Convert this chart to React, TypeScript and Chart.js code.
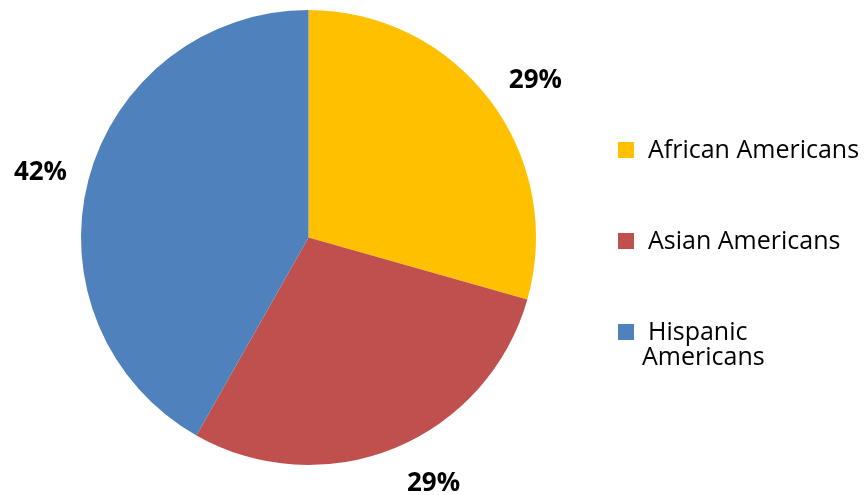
import React, { useEffect, useRef } from "react";
import { Chart, registerables } from "chart.js";

Chart.register(...registerables);

const categories = ["African Americans", "Asian Americans", "Hispanic Americans"];
const legendLines = [["African Americans"], ["Asian Americans"], ["Hispanic", "Americans"]];
const values = [29.4, 28.8, 41.8];
const percentLabels = ["29%", "29%", "42%"];
const colors = ["#FFC000", "#C0504D", "#4F81BD"];

const labelPlugin = {
  id: "pctLabels",
  afterDraw(chart: any) {
    const ctx = chart.ctx;
    const meta = chart.getDatasetMeta(0);
    ctx.save();
    ctx.font = "bold 26px 'Open Sans'";
    ctx.fillStyle = "#000";
    ctx.textAlign = "center";
    ctx.textBaseline = "alphabetic";
    meta.data.forEach((arc: any, i: number) => {
      const p = arc.getProps(["x", "y", "startAngle", "endAngle", "outerRadius"], true);
      const mid = (p.startAngle + p.endAngle) / 2;
      const c = Math.cos(mid);
      const s = Math.sin(mid);
      const r = p.outerRadius + 16;
      const half = ctx.measureText(percentLabels[i]).width / 2 + 6;
      const cx = p.x + c * r + Math.sign(c) * half;
      const cy = p.y + s * r + s * 20;
      ctx.fillText(percentLabels[i], cx, cy + 9.5);
    });
    ctx.restore();
  },
};

const legendPlugin = {
  id: "sideLegend",
  afterDraw(chart: any) {
    const ctx = chart.ctx;
    const boxX = 618;
    const textX = 648;
    const contX = 642;
    const firstBaseline = 158;
    const gap = 91;
    const lineH = 25;
    ctx.save();
    ctx.font = "25px 'Open Sans'";
    ctx.textAlign = "left";
    ctx.textBaseline = "alphabetic";
    chart.data.labels.forEach((_: string, i: number) => {
      const base = firstBaseline + gap * i;
      ctx.fillStyle = chart.data.datasets[0].backgroundColor[i];
      ctx.fillRect(boxX, base - 16, 16, 16);
      ctx.fillStyle = "#000";
      legendLines[i].forEach((line, j) => {
        ctx.fillText(line, j === 0 ? textX : contX, base + j * lineH);
      });
    });
    ctx.restore();
  },
};

export default function App() {
  const ref = useRef<HTMLCanvasElement | null>(null);
  useEffect(() => {
    document.body.style.margin = "0";
    const chart = new Chart(ref.current as HTMLCanvasElement, {
      type: "pie",
      data: {
        labels: categories,
        datasets: [
          {
            data: values,
            backgroundColor: colors,
            borderWidth: 0,
          },
        ],
      },
      options: {
        animation: false,
        responsive: false,
        maintainAspectRatio: false,
        layout: { padding: { left: 81, right: 329, top: 10, bottom: 30 } },
        plugins: {
          legend: { display: false },
          tooltip: { enabled: false },
        },
      },
      plugins: [labelPlugin, legendPlugin],
    });
    return () => chart.destroy();
  }, []);
  return (
    <div style={{ position: "absolute", left: 0, top: 0, width: 865, height: 495, background: "#fff" }}>
      <canvas ref={ref} width={865} height={495} style={{ width: 865, height: 495 }} />
    </div>
  );
}
